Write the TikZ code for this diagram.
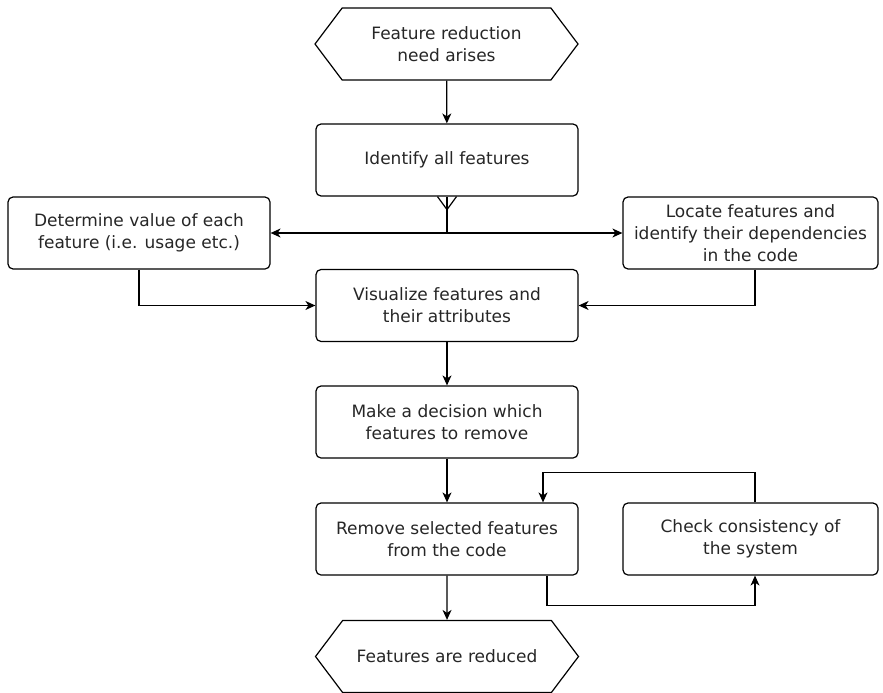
\documentclass[tikz,border=0pt]{standalone}
\usepackage{fontspec}
\setmainfont{DejaVu Sans}
\usetikzlibrary{arrows.meta,shapes.symbols}
\begin{document}
\begin{tikzpicture}[x=1pt,y=-1pt,
  font=\fontsize{17}{21.7}\selectfont,
  every node/.style={text=black!85},
  stepbox/.style={draw=black, line width=1.2pt, rounded corners=5pt,
    minimum width=262pt, minimum height=72pt, align=center, inner sep=0pt},
  terminal/.style={draw=black, line width=1.2pt, shape=signal,
    signal to=east and west, signal pointer angle=106,
    minimum width=263pt, minimum height=72pt, align=center, inner sep=0pt},
  flow/.style={draw=black, line width=1.2pt,
    -{Stealth[length=10pt,width=9pt,inset=3pt]}},
  link/.style={draw=black, line width=1.2pt}]
\useasboundingbox (0,0) rectangle (883,693);

% process steps
\node[terminal] (start) at (446.5,44) {Feature reduction\\need arises};
\node[stepbox] (ident) at (447,160) {Identify all features};
\node[stepbox] (value) at (139,233) {Determine value of each\\feature (i.e. usage etc.)};
\node[stepbox, minimum width=255pt] (locate) at (750.5,233) {Locate features and\\identify their dependencies\\in the code};
\node[stepbox] (vis) at (447,305.5) {Visualize features and\\their attributes};
\node[stepbox] (dec) at (447,422) {Make a decision which\\features to remove};
\node[stepbox] (rem) at (447,539) {Remove selected features\\from the code};
\node[stepbox, minimum width=255pt] (check) at (750.5,539) {Check consistency of\\the system};
\node[terminal] (end) at (447,656.5) {Features are reduced};

% connectors
\draw[flow] (start) -- (ident);
\coordinate (fork) at (447,233);
\draw[link] (ident.south) -- (fork);
\draw[link] ([xshift=-9.5pt]ident.south) -- ([yshift=-13pt]ident.south) -- ([xshift=9.5pt]ident.south);
\draw[flow] (fork) -- (value.east);
\draw[flow] (fork) -- (locate.west);
\draw[flow] (value.south) |- (vis.west);
\draw[flow] ([xshift=4.5pt]locate.south) |- (vis.east);
\draw[flow] (vis) -- (dec);
\draw[flow] (dec) -- (rem);
\draw[flow] ([xshift=4.5pt]check.north) -- ++(0,-30) -| ([xshift=96pt]rem.north);
\draw[flow] ([xshift=100pt]rem.south) -- ++(0,30) -| ([xshift=4.5pt]check.south);
\draw[flow] (rem) -- (end);
\end{tikzpicture}
\end{document}
